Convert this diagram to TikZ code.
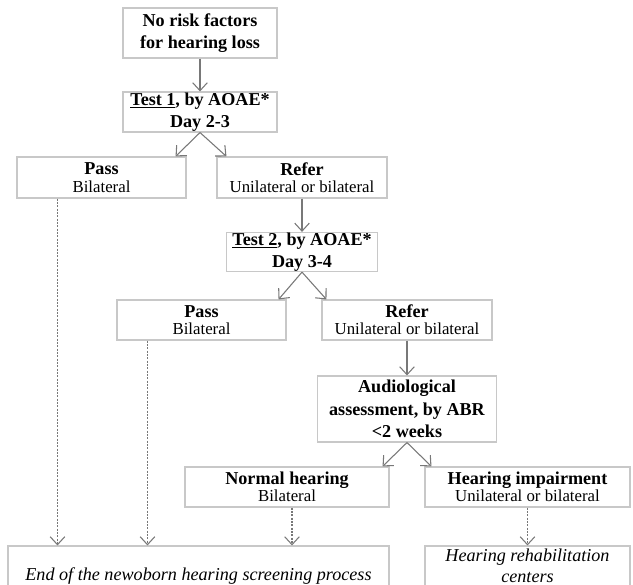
\documentclass[tikz,border=0pt]{standalone}
\usepackage{fontspec}
\setmainfont{Liberation Serif}
\usetikzlibrary{arrows.meta}
\definecolor{boxgray}{RGB}{200,200,200}
\definecolor{arrgray}{RGB}{120,120,120}
\tikzset{
    box/.style={draw=boxgray, line width=0.8pt, align=center, inner sep=0pt,
        font=\fontsize{12.6}{13}\selectfont},
    bigbox/.style={box, font=\fontsize{13.6}{17}\selectfont\bfseries},
    endbox/.style={box, font=\fontsize{13.6}{16}\selectfont\itshape},
    sz/.style 2 args={minimum width=#1*0.75pt, minimum height=#2*0.75pt},
    arr/.style={draw=arrgray, line width=0.8pt, -{Straight Barb[length=6pt,width=11pt]}},
    dotarr/.style={arr, dash pattern=on 1.5pt off 1pt}
}
\newcommand{\hd}[1]{{\fontsize{13.6}{13}\selectfont\bfseries #1}}

\begin{document}
\begin{tikzpicture}[x=0.75pt, y=-0.75pt]
    \useasboundingbox (0,0) rectangle (633,585);

    \node[bigbox, sz={154}{50}] (risk) at (200,33) {No risk factors\\for hearing loss};
    \node[bigbox, sz={154}{40}] (test1) at (200,112) {\underline{Test 1}, by AOAE*\\Day 2-3};
    \node[box, sz={169}{41}] (passA) at (101.5,177.5) {\hd{Pass}\\Bilateral};
    \node[box, sz={170}{41}] (referA) at (302,177.5) {\hd{Refer}\\Unilateral or bilateral};
    \node[bigbox, sz={151}{38}] (test2) at (302,252) {\underline{Test 2}, by AOAE*\\Day 3-4};
    \node[box, sz={169}{40}] (passB) at (201.5,320) {\hd{Pass}\\Bilateral};
    \node[box, sz={170}{40}] (referB) at (407,320) {\hd{Refer}\\Unilateral or bilateral};
    \node[bigbox, sz={179}{66}] (abr) at (407,409) {Audiological\\assessment, by ABR\\<2 weeks};
    \node[box, sz={204}{40}] (normal) at (287,487) {\hd{Normal hearing}\\Bilateral};
    \node[box, sz={205}{40}] (impair) at (527.5,487) {\hd{Hearing impairment}\\Unilateral or bilateral};
    \node[endbox, sz={381}{60}] (endproc) at (198.5,576) {End of the newoborn hearing screening process};
    \node[endbox, sz={205}{40}] (rehab) at (527.5,566) {Hearing rehabilitation\\centers};

    % solid paths
    \draw[arr] (risk) -- (test1);
    \draw[arr] (test1.south) -- ([xshift=-8.25pt]passA.north east);
    \draw[arr] (test1.south) -- ([xshift=7.5pt]referA.north west);
    \draw[arr] (referA) -- (test2);
    \draw[arr] (test2.south) -- ([xshift=-6pt]passB.north east);
    \draw[arr] (test2.south) -- ([xshift=3.75pt]referB.north west);
    \draw[arr] (referB) -- (abr);
    \draw[arr] (abr.south) -- ([xshift=-5.25pt]normal.north east);
    \draw[arr] (abr.south) -- ([xshift=5.25pt]impair.north west);

    % dotted paths
    \coordinate (pa) at ([xshift=30.75pt]passA.south west);
    \coordinate (pb) at ([xshift=23.25pt]passB.south west);
    \coordinate (nh) at ([xshift=3.75pt]normal.south);
    \draw[dotarr] (pa) -- (pa |- endproc.north);
    \draw[dotarr] (pb) -- (pb |- endproc.north);
    \draw[dotarr] (nh) -- (nh |- endproc.north);
    \draw[dotarr] (impair) -- (rehab.north);
\end{tikzpicture}
\end{document}
